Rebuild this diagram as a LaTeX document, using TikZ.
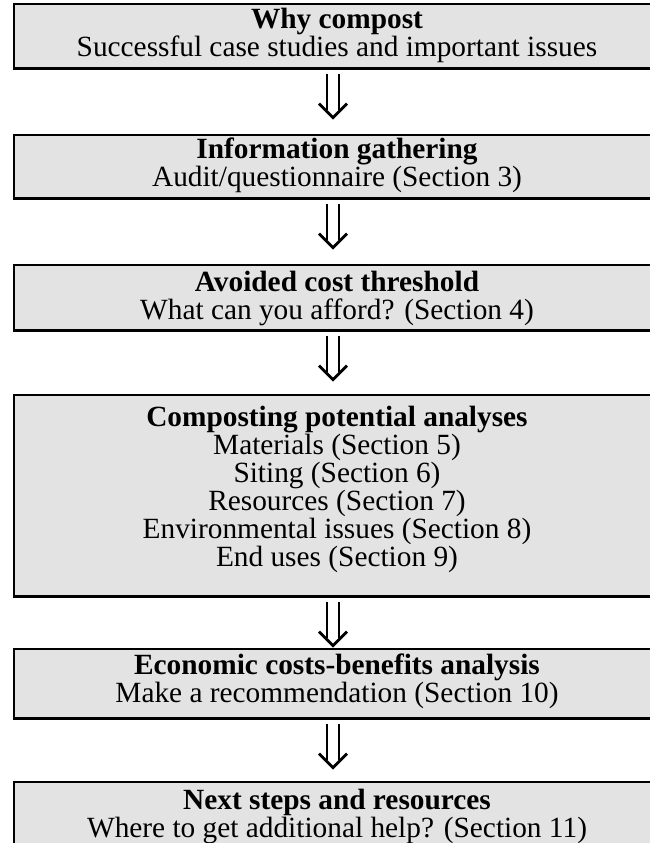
\documentclass[tikz,border=0pt]{standalone}
\usepackage{fontspec}
\setmainfont{Liberation Serif}
\usetikzlibrary{calc}
\definecolor{boxgray}{RGB}{227,227,227}
\newcommand{\flowarrow}[2]{%
  \coordinate (s) at ($(#1.south -| #2)+(-4,5)$);
  \coordinate (t) at ($(#1.south -| #2)+(-4,49)$);
  \draw[arr] ($(s)+(-6,0)$) -- ($(t)+(-6,-8)$);
  \draw[arr] ($(s)+(6,0)$) -- ($(t)+(6,-8)$);
  \draw[arr] ($(t)+(-14,-14)$) -- (t) -- ($(t)+(14,-14)$);}
\newcommand{\boxborder}[1]{%
  \draw[edge] (#1.north east) -- (#1.north west) -- (#1.south west) -- (#1.south east);}
\begin{document}
\begin{tikzpicture}[x=0.75pt,y=-0.75pt,
  txt/.style={align=center, font=\fontsize{22}{21}\selectfont, inner sep=0pt},
  box/.style={fill=boxgray, minimum width=540pt, inner sep=0pt, anchor=north west},
  edge/.style={line width=1.7pt, line cap=rect},
  arr/.style={line width=2.1pt, line join=miter}]
\useasboundingbox (0,0) rectangle (650,843);
\node[box, minimum height=48pt] (b1) at (14,4) {};
\node[box, minimum height=47.25pt] (b2) at (14,135) {};
\node[box, minimum height=48.75pt] (b3) at (14,265) {};
\node[box, minimum height=150.75pt] (b4) at (14,395) {};
\node[box, minimum height=51.75pt] (b5) at (14,649) {};
\node[box, minimum height=66pt] (b6) at (14,782) {};
\boxborder{b1}
\boxborder{b2}
\boxborder{b3}
\boxborder{b4}
\boxborder{b5}
\boxborder{b6}
\node[txt] (t1) at (337,35) {\textbf{Why compost}\\Successful case studies and important issues};
\node[txt] (t2) at (337,165) {\textbf{Information gathering}\\Audit/questionnaire (Section 3)};
\node[txt] (t3) at (337,298) {\textbf{Avoided cost threshold}\\What can you afford? (Section 4)};
\node[txt] (t4) at (337,489) {\textbf{Composting potential analyses}\\Materials (Section 5)\\Siting (Section 6)\\Resources (Section 7)\\Environmental issues (Section 8)\\End uses (Section 9)};
\node[txt] (t5) at (337,681) {\textbf{Economic costs-benefits analysis}\\Make a recommendation (Section 10)};
\node[txt] (t6) at (337,816) {\textbf{Next steps and resources}\\Where to get additional help? (Section 11)};
\flowarrow{b1}{t1}
\flowarrow{b2}{t2}
\flowarrow{b3}{t3}
\flowarrow{b4}{t4}
\flowarrow{b5}{t5}
\end{tikzpicture}
\end{document}
